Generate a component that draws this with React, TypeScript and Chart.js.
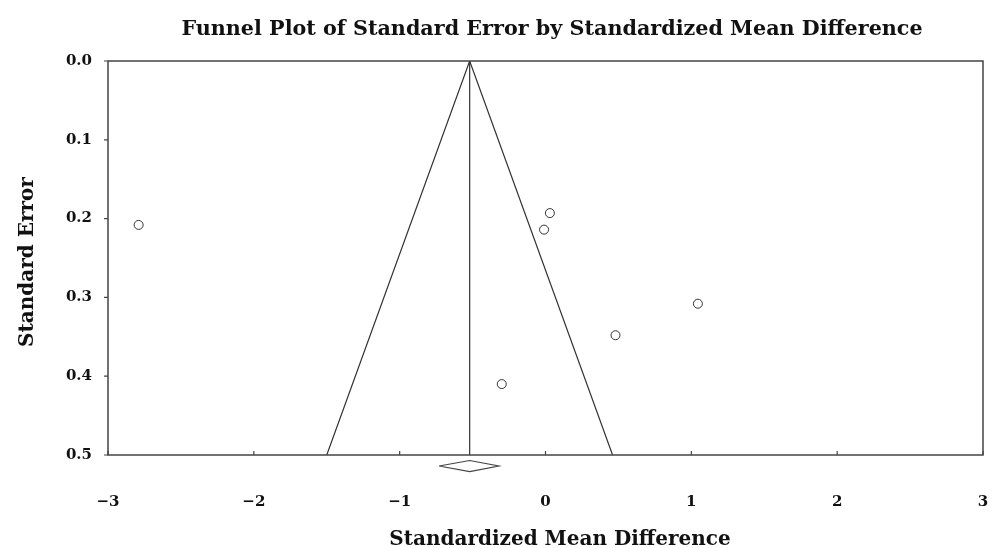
import React, { useEffect, useRef } from "react";
import { Chart, registerables } from "chart.js";

Chart.register(...registerables);

const studyEffects = [-2.79, 0.03, -0.01, 1.045, 0.48, -0.3];
const studySE = [0.208, 0.193, 0.214, 0.308, 0.348, 0.41];
const funnelEffects = [-1.5, -0.52, 0.46];
const funnelSE = [0.5, 0, 0.5];
const meanLineEffects = [-0.52, -0.52];
const meanLineSE = [0, 0.5];
const diamondEffects = [-0.73, -0.52, -0.32, -0.52, -0.73];
const diamondSE = [0.514, 0.507, 0.514, 0.521, 0.514];
const xTicks = [-3, -2, -1, 0, 1, 2, 3];
const yTicks = [0, 0.1, 0.2, 0.3, 0.4, 0.5];

const titleText = "Funnel Plot of Standard Error by Standardized Mean Difference";
const xTitle = "Standardized Mean Difference";
const yTitle = "Standard Error";

const FONT = "'DejaVu Serif', serif";
const INK = "#333";

const pts = (xs: number[], ys: number[]) => xs.map((x, i) => ({ x, y: ys[i] }));

const framePlugin = {
  id: "frame",
  afterDraw(chart: any) {
    const { ctx, chartArea: a, scales } = chart;
    const xs = scales.x;
    const ys = scales.y;
    ctx.save();
    ctx.strokeStyle = "#444";
    ctx.lineWidth = 1.5;
    ctx.strokeRect(a.left, a.top, a.right - a.left, a.bottom - a.top);
    ctx.lineWidth = 1.2;
    ctx.beginPath();
    yTicks.forEach((v) => {
      const py = ys.getPixelForValue(v);
      ctx.moveTo(a.left - 4, py);
      ctx.lineTo(a.left, py);
    });
    xTicks.forEach((v) => {
      const px = xs.getPixelForValue(v);
      ctx.moveTo(px, a.bottom);
      ctx.lineTo(px, a.bottom - 4);
    });
    ctx.stroke();
    ctx.fillStyle = "#111";
    ctx.font = `bold 20.7px ${FONT}`;
    ctx.textAlign = "center";
    ctx.textBaseline = "alphabetic";
    ctx.fillText(titleText, 552, 35);
    ctx.font = `bold 20px ${FONT}`;
    ctx.fillText(xTitle, 560, 545);
    ctx.translate(33, 262);
    ctx.rotate(-Math.PI / 2);
    ctx.fillText(yTitle, 0, 0);
    ctx.restore();
  },
};

export default function App() {
  const ref = useRef<HTMLCanvasElement | null>(null);
  useEffect(() => {
    if (!ref.current) return;
    const chart = new Chart(ref.current, {
      type: "scatter",
      data: {
        datasets: [
          {
            label: "Studies",
            data: pts(studyEffects, studySE),
            pointStyle: "circle",
            pointRadius: 4.5,
            pointBackgroundColor: "#fff",
            pointBorderColor: INK,
            pointBorderWidth: 1,
            showLine: false,
          },
          {
            label: "Funnel",
            data: pts(funnelEffects, funnelSE),
            showLine: true,
            pointRadius: 0,
            borderColor: INK,
            borderWidth: 1.2,
          },
          {
            label: "Mean",
            data: pts(meanLineEffects, meanLineSE),
            showLine: true,
            pointRadius: 0,
            borderColor: INK,
            borderWidth: 1.2,
          },
          {
            label: "Diamond",
            data: pts(diamondEffects, diamondSE),
            showLine: true,
            pointRadius: 0,
            borderColor: "#444",
            borderWidth: 1.2,
            clip: false,
          } as any,
        ],
      },
      options: {
        animation: false,
        responsive: false,
        maintainAspectRatio: false,
        layout: { padding: { top: 61, right: 27, bottom: 0, left: 0 } },
        plugins: { legend: { display: false }, tooltip: { enabled: false }, title: { display: false } },
        scales: {
          x: {
            type: "linear",
            min: -3,
            max: 3,
            grid: { display: false, drawTicks: false },
            border: { display: false },
            ticks: {
              stepSize: 1,
              padding: 38,
              color: "#111",
              font: { family: FONT, weight: "bold", size: 15 },
              callback: (v: any) => (v < 0 ? "\u2212" + Math.abs(v) : String(v)),
            },
            afterFit: (s: any) => {
              s.height = 93;
              s.paddingLeft = 0;
              s.paddingRight = 0;
            },
          },
          y: {
            type: "linear",
            reverse: true,
            min: 0,
            max: 0.5,
            grid: { display: false, drawTicks: false },
            border: { display: false },
            ticks: {
              stepSize: 0.1,
              padding: 16,
              color: "#111",
              font: { family: FONT, weight: "bold", size: 15 },
              callback: (v: any) => Number(v).toFixed(1),
            },
            afterFit: (s: any) => {
              s.width = 108;
            },
          },
        },
      },
      plugins: [framePlugin],
    });
    return () => chart.destroy();
  }, []);
  return (
    <div style={{ position: "absolute", left: 0, top: 0, width: 992, height: 548, overflow: "hidden", background: "#fff" }}>
      <canvas ref={ref} width={1010} height={548} style={{ display: "block", width: 1010, height: 548 }} />
    </div>
  );
}
